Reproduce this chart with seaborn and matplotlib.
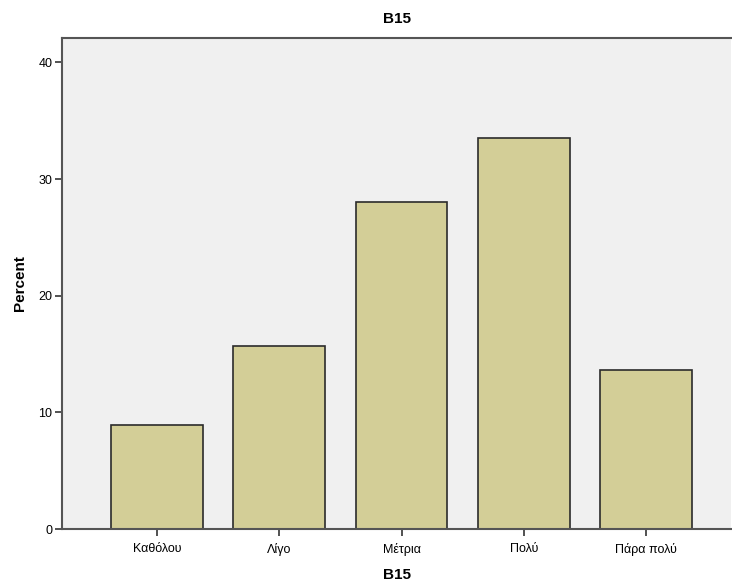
import matplotlib
matplotlib.use("Agg")
import matplotlib.pyplot as plt
import pandas as pd
import seaborn as sns

categories = ["Καθόλου", "Λίγο", "Μέτρια", "Πολύ", "Πάρα πολύ"]
percent = [8.9, 15.7, 28.0, 33.5, 13.6]
yticks = [0, 10, 20, 30, 40]

df = pd.DataFrame({"B15": categories, "Percent": percent})

sns.set_style("white")
plt.rcParams["font.family"] = ["Liberation Sans", "DejaVu Sans"]
plt.rcParams["text.color"] = "black"
plt.rcParams["axes.labelcolor"] = "black"

fig = plt.figure(figsize=(7.32, 5.83), dpi=100)
ax = fig.add_axes([62 / 732, 54 / 583, 669 / 732, 491 / 583])
ax.set_facecolor("#f0f0f0")

sns.barplot(
    data=df, x="B15", y="Percent", order=categories, color="#d3ce97",
    saturation=1, width=0.75, edgecolor="#2b2b2b", linewidth=1.2, ax=ax,
)

ax.set_xlim(-0.777, 4.695)
ax.set_ylim(0, 42.1)
ax.set_yticks(yticks)
ax.tick_params(axis="both", direction="out", length=5, width=1.2,
               color="#333333", labelcolor="black", labelsize=9,
               left=True, bottom=True)
ax.tick_params(axis="x", pad=5)
ax.tick_params(axis="y", pad=2)

for side in ["left", "bottom", "top"]:
    ax.spines[side].set_color("#555555")
    ax.spines[side].set_linewidth(1.5)
ax.spines["right"].set_visible(False)

ax.set_title("B15", fontsize=11, fontweight="bold", pad=11, color="black")
ax.set_xlabel("B15", fontsize=11, fontweight="bold", labelpad=9)
ax.set_ylabel("Percent", fontsize=11, fontweight="bold", labelpad=8)

fig.savefig("out.png", dpi=100)
